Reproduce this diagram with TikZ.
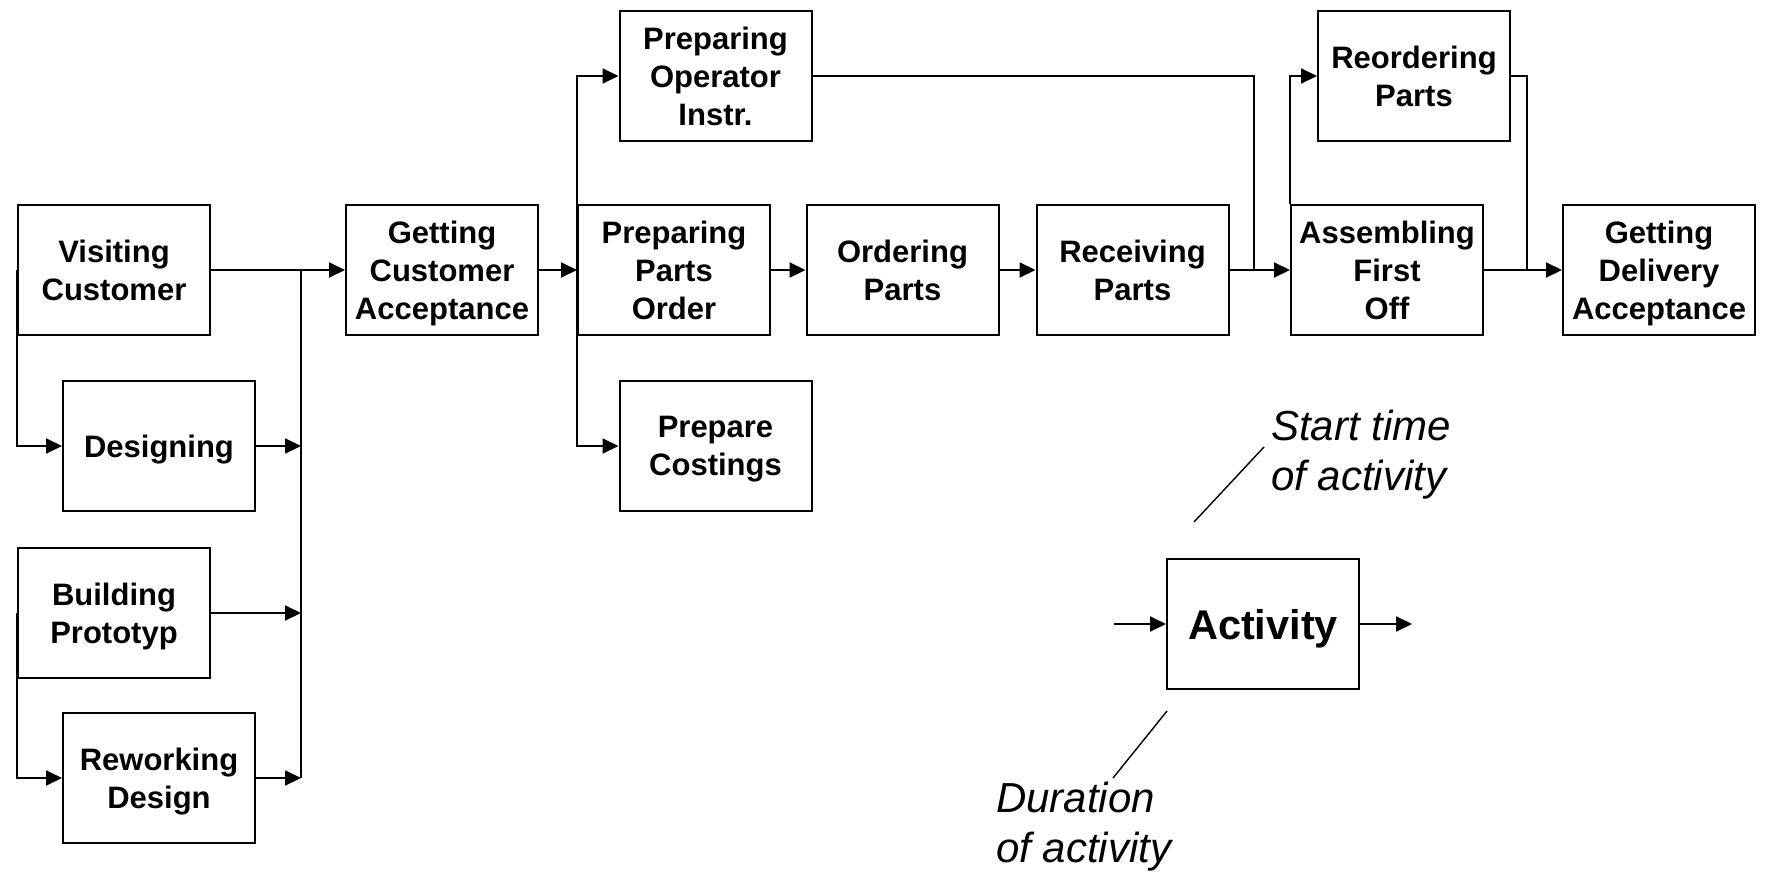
\documentclass[tikz,border=0pt]{standalone}
\usepackage{fontspec}
\setmainfont{Liberation Sans}
\usetikzlibrary{arrows.meta}
\tikzset{
  act/.style={draw=black, line width=2pt, minimum width=192pt, minimum height=130pt,
    inner sep=0pt, align=center, text depth=0pt, font=\fontsize{31}{38}\selectfont\bfseries},
  legact/.style={act, font=\fontsize{41.5}{48}\selectfont\bfseries},
  conn/.style={line width=2pt},
  arr/.style={line width=2pt, -{Triangle[length=16pt,width=15pt]}},
  slash/.style={line width=1.4pt},
  lbl/.style={anchor=base west, inner sep=0pt, font=\fontsize{42}{50}\selectfont\itshape}
}
\begin{document}
\begin{tikzpicture}[x=1pt,y=-1pt]
\useasboundingbox (0,0) rectangle (1767,879);
% boxes
\node[act] (visit)  at (114,270)    {Visiting\\Customer};
\node[act] (design) at (159,446)    {Designing};
\node[act] (build)  at (114,613)    {Building\\Prototyp};
\node[act] (rework) at (159,778)    {Reworking\\Design};
\node[act] (getcust) at (442,270)   {Getting\\Customer\\Acceptance};
\node[act] (oper)   at (715.5,76)   {Preparing\\Operator\\Instr.};
\node[act] (ppo)    at (674,270)    {Preparing\\Parts\\Order};
\node[act] (cost)   at (715.5,446)  {Prepare\\Costings};
\node[act] (order)  at (902.5,270)  {Ordering\\Parts};
\node[act] (recv)   at (1132.5,270) {Receiving\\Parts};
\node[act] (reorder) at (1414,76)   {Reordering\\Parts};
\node[act] (assem)  at (1387,270)   {Assembling\\First\\Off};
\node[act] (deliv)  at (1659,270)   {Getting\\Delivery\\Acceptance};
% coordinates
\coordinate (bx) at (301,0);
\coordinate (ojoin) at (1254,270);
\coordinate (rjoin) at (1527,270);
% connectors left part
\draw[arr] (visit.east) -- (getcust.west);
\draw[conn] (visit.east -| bx) -- (rework.east -| bx);
\draw[arr] (design.east) -- (design.east -| bx);
\draw[arr] (build.east) -- (build.east -| bx);
\draw[arr] (rework.east) -- (rework.east -| bx);
\draw[arr] (visit.west) |- (design.west);
\draw[arr] (build.west) |- (rework.west);
% middle
\draw[arr] (getcust.east) -- (ppo.west);
\draw[arr] (ppo.west) |- (oper.west);
\draw[arr] (ppo.west) |- (cost.west);
\draw[arr] (ppo.east) -- (order.west);
\draw[arr] (order.east) -- (recv.west);
\draw[arr] (recv.east) -- (assem.west);
\draw[conn] (oper.east) -| (ojoin);
% right
\draw[arr] (assem.north west) |- (reorder.west);
\draw[conn] (reorder.east) -| (rjoin);
\draw[arr] (assem.east) -- (deliv.west);
% legend
\node[legact] (activity) at (1263,624) {Activity};
\coordinate (ain) at (1114,624);
\coordinate (aout) at (1412,624);
\draw[arr] (ain) -- (activity.west);
\draw[arr] (activity.east) -- (aout);
\coordinate (s1) at (1194,522);
\coordinate (s2) at (1264,447);
\coordinate (d1) at (1167,711);
\coordinate (d2) at (1113,778);
\draw[slash] (s1) -- (s2);
\draw[slash] (d1) -- (d2);
\node[lbl] (st1) at (1271,440) {Start time};
\node[lbl] (st2) at (1271,490) {of activity};
\node[lbl] (du1) at (996,812) {Duration};
\node[lbl] (du2) at (996,862) {of activity};
\end{tikzpicture}
\end{document}
